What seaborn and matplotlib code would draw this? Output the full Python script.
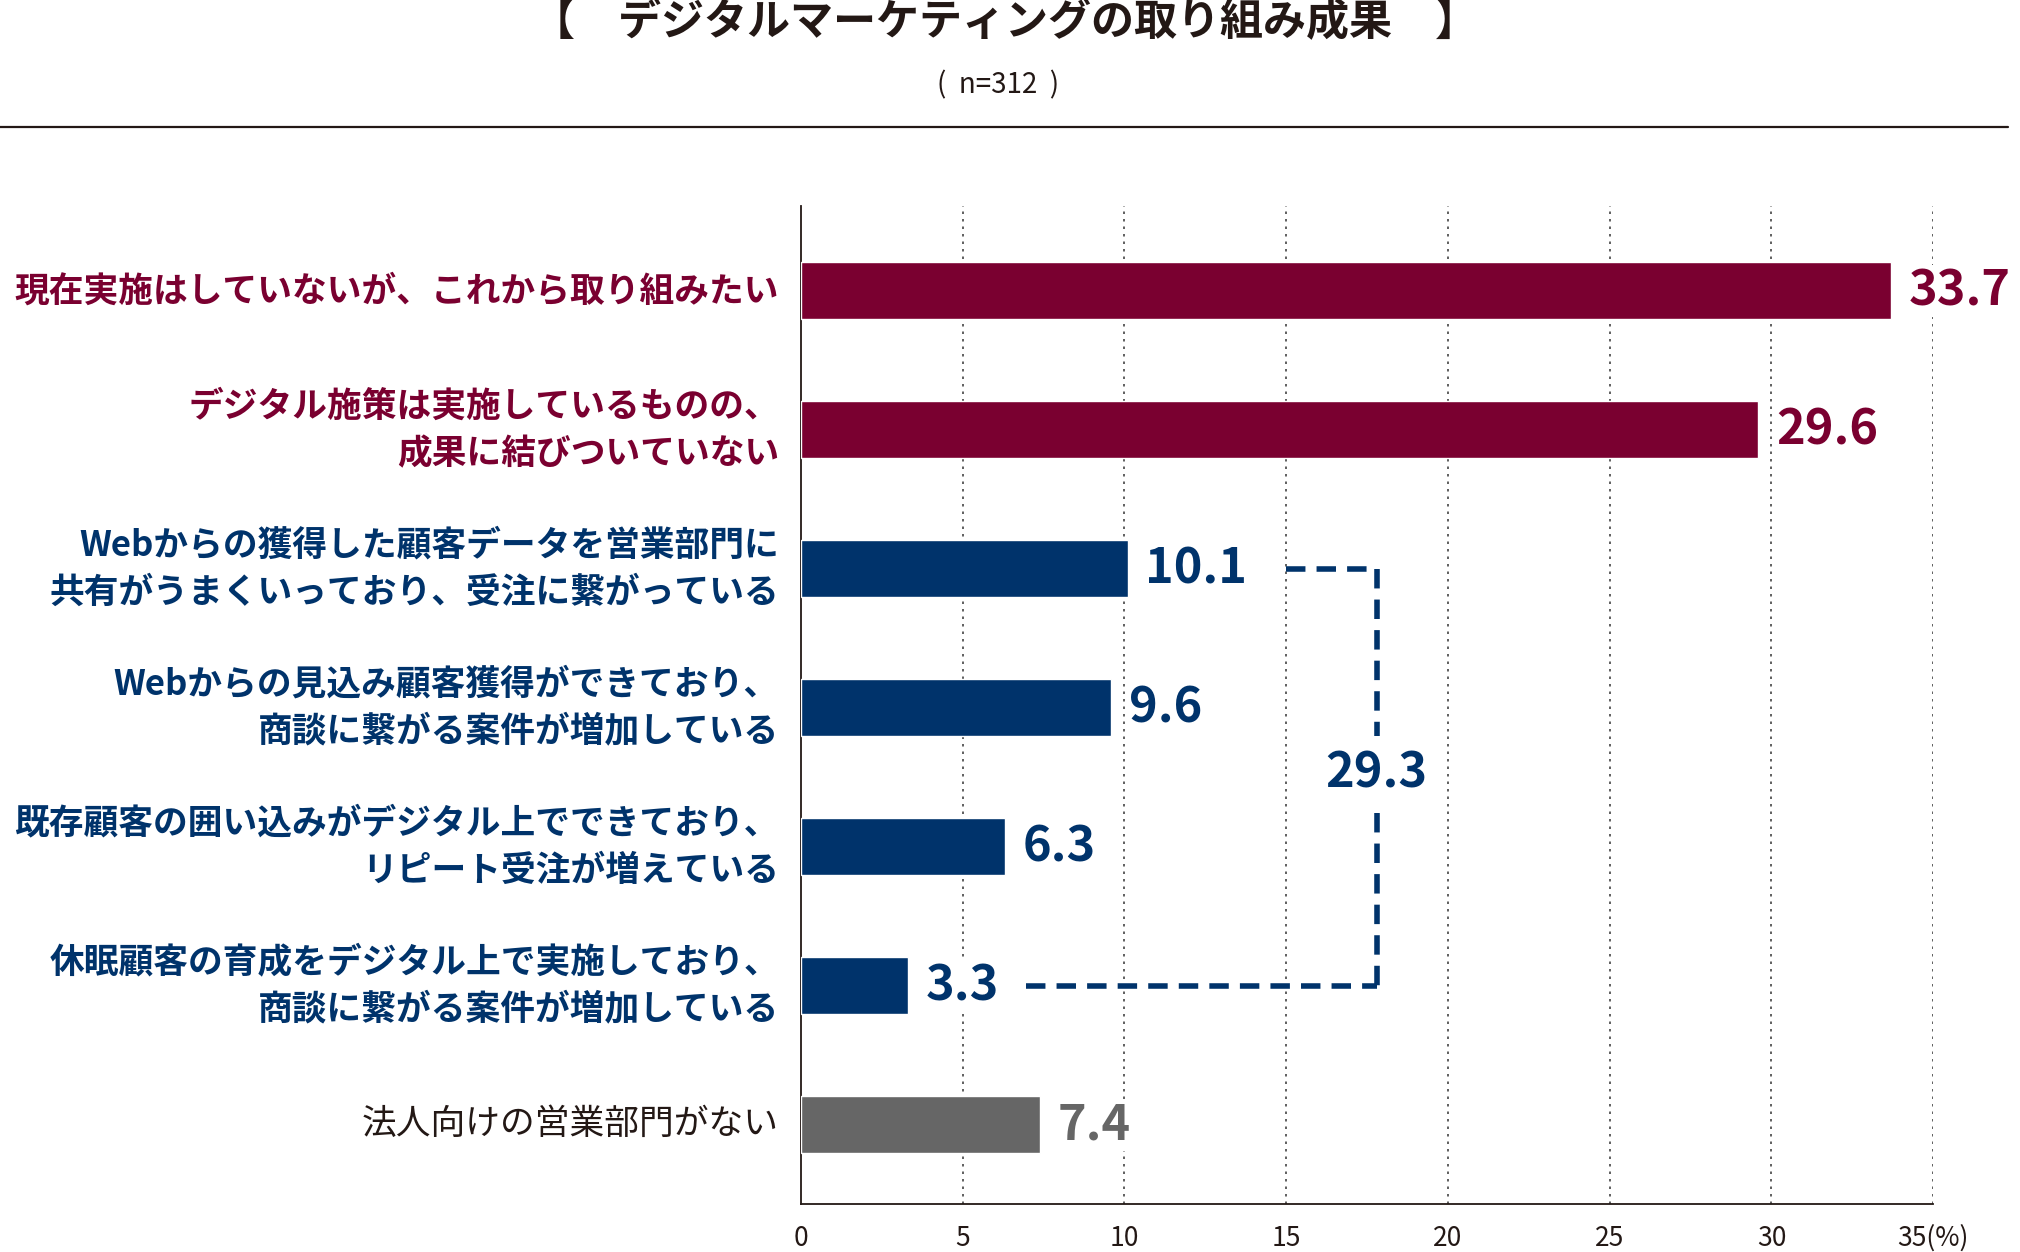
import matplotlib
matplotlib.use("Agg")
import matplotlib.pyplot as plt
import matplotlib.transforms as mtransforms
import seaborn as sns
import pandas as pd
from matplotlib.lines import Line2D

# -----------------------------------------------------
# DATA
# -----------------------------------------------------

categories = [
    "現在実施はしていないが、これから取り組みたい",
    "デジタル施策は実施しているものの、\n成果に結びついていない",
    "Webからの獲得した顧客データを営業部門に\n共有がうまくいっており、受注に繋がっている",
    "Webからの見込み顧客獲得ができており、\n商談に繋がる案件が増加している",
    "既存顧客の囲い込みがデジタル上でできており、\nリピート受注が増えている",
    "休眠顧客の育成をデジタル上で実施しており、\n商談に繋がる案件が増加している",
    "法人向けの営業部門がない",
]
values = [33.7, 29.6, 10.1, 9.6, 6.3, 3.3, 7.4]
groups = ["not_yet", "not_yet", "success", "success", "success", "success", "none"]
success_total = 29.3

x_ticks = [0, 5, 10, 15, 20, 25, 30, 35]
x_tick_labels = ["0", "5", "10", "15", "20", "25", "30", "35(%)"]

title = "【　デジタルマーケティングの取り組み成果　】"
subtitle = "(  n=312  )"

# -----------------------------------------------------
# STYLE
# -----------------------------------------------------

MAROON = "#7a0030"
NAVY = "#00336b"
GRAY = "#666666"
group_colors = {"not_yet": MAROON, "success": NAVY, "none": GRAY}
label_colors = {"not_yet": MAROON, "success": NAVY, "none": "#231815"}

sns.set_style("white")
plt.rcParams['font.family'] = ['Noto Sans CJK JP', 'DejaVu Sans']

df = pd.DataFrame({"category": categories, "value": values, "group": groups})

fig = plt.figure(figsize=(20.2, 12.52), dpi=100)
ax = fig.add_axes([0.3965, 0.0383, 0.5605, 0.7972])

sns.barplot(
    data=df, x="value", y="category", hue="category",
    palette=[group_colors[g] for g in groups],
    orient="h", width=0.41, legend=False, ax=ax, zorder=3,
    saturation=1,
)

ax.set_xlim(0, 35)
ax.set_ylim(6.57, -0.61)

# gridlines
for t in x_ticks[1:]:
    ax.axvline(t, color="#444444", lw=1.2, ls=(0, (1.5, 3)), zorder=1)

for s in ["top", "right"]:
    ax.spines[s].set_visible(False)
ax.spines["left"].set_color("#231815")
ax.spines["bottom"].set_color("#231815")
ax.spines["left"].set_linewidth(1.3)
ax.spines["bottom"].set_linewidth(1.3)

ax.set_xticks(x_ticks)
ax.set_xticklabels(x_tick_labels, fontsize=19, color="#231815")
ax.tick_params(axis="x", length=0, pad=15)
ax.tick_params(axis="y", length=0)
ax.set_yticklabels([])
ax.set_xlabel("")
ax.set_ylabel("")

# category labels
trans = mtransforms.blended_transform_factory(ax.transAxes, ax.transData)
for i, (cat, g) in enumerate(zip(categories, groups)):
    ax.text(-0.0194, i, cat, transform=trans, ha="right", va="center",
            fontsize=25, color=label_colors[g], linespacing=1.45,
            fontweight="normal" if g == "none" else "bold")

# value labels
for i, (v, g) in enumerate(zip(values, groups)):
    ax.text(v + 0.55, i, f"{v:.1f}", va="center", ha="left",
            fontsize=35, fontweight="bold", color=group_colors[g], zorder=5,
            bbox=dict(facecolor="white", edgecolor="none", pad=1))

# bracket for the success total
bx = 17.8
dash = dict(color=NAVY, lw=4, ls=(0, (3.5, 2)), zorder=4)
ax.plot([15.0, bx], [2, 2], **dash)
ax.plot([bx, bx], [2, 3.2], **dash)
ax.plot([bx, bx], [3.76, 5], **dash)
ax.plot([6.95, bx], [5, 5], **dash)
ax.text(bx, 3.47, f"{success_total:.1f}", ha="center", va="center",
        fontsize=35, fontweight="bold", color=NAVY, zorder=5)

# title block
fig.text(0.4975, 0.982, title, ha="center", va="center",
         fontsize=31, fontweight="bold", color="#231815")
fig.text(0.494, 0.932, subtitle, ha="center", va="center",
         fontsize=20, color="#231815")
fig.add_artist(Line2D([0, 0.994], [0.8986, 0.8986], color="#231815", lw=1.6,
                      transform=fig.transFigure))

plt.savefig("out.png", dpi=100)
plt.close()
